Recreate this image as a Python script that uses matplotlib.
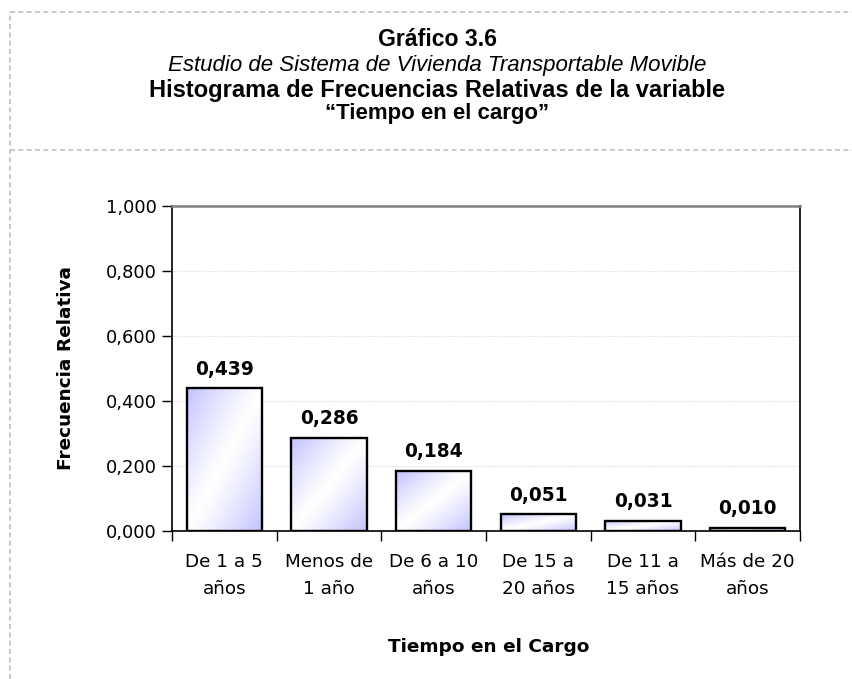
import numpy as np
import matplotlib
matplotlib.use('Agg')
import matplotlib.pyplot as plt
from matplotlib.lines import Line2D

# データ
categories = ['De 1 a 5\naños', 'Menos de\n1 año', 'De 6 a 10\naños',
              'De 15 a\n20 años', 'De 11 a\n15 años', 'Más de 20\naños']
values = [0.439, 0.286, 0.184, 0.051, 0.031, 0.010]
yticks = [0.0, 0.2, 0.4, 0.6, 0.8, 1.0]

title_lines = ['Gráfico 3.6',
               'Estudio de Sistema de Vivienda Transportable Movible',
               'Histograma de Frecuencias Relativas de la variable',
               '“Tiempo en el cargo”']

def fmt(v):
    return f'{v:.3f}'.replace('.', ',')

fig = plt.figure(figsize=(8.52, 6.79), dpi=100)
ax = fig.add_axes([172 / 852, 1 - 531 / 679, 628 / 852, 325 / 679])

x = np.arange(len(categories))
bars = ax.bar(x, values, width=0.72, facecolor='none', edgecolor='black',
              linewidth=1.7, zorder=3)

# グラデーション塗り（左上→中央白→右下）
lav = np.array([0.76, 0.76, 1.0])
white = np.array([1.0, 1.0, 1.0])
n = 64
u, v = np.meshgrid(np.linspace(0, 1, n), np.linspace(0, 1, n))
t = np.abs((u + v) - 1.0)
t = np.clip(t, 0, 1) ** 1.2
grad = white[None, None, :] * (1 - t[..., None]) + lav[None, None, :] * t[..., None]
for b in bars:
    x0, y0 = b.get_x(), b.get_y()
    w, h = b.get_width(), b.get_height()
    im = ax.imshow(grad, extent=(x0, x0 + w, y0, y0 + h), origin='upper',
                   aspect='auto', zorder=2, interpolation='bilinear')
    im.set_clip_path(b)

ax.set_xlim(-0.5, len(categories) - 0.5)
ax.set_ylim(0, 1.0)
ax.set_yticks(yticks)
ax.set_yticklabels([fmt(t) for t in yticks], fontsize=13, family='DejaVu Sans')
ax.set_xticks(np.arange(len(categories) + 1) - 0.5, minor=False)
ax.set_xticklabels([])
ax.set_xticks(x, minor=True)
ax.set_xticklabels(categories, minor=True, fontsize=13.2, family='DejaVu Sans',
                   linespacing=1.6)
ax.tick_params(axis='x', which='minor', length=0, pad=16)
ax.tick_params(axis='x', which='major', length=7, width=1, direction='out')
ax.tick_params(axis='y', length=7, width=1, direction='out', pad=4)

for s in ['left', 'bottom', 'right']:
    ax.spines[s].set_color('black')
    ax.spines[s].set_linewidth(1.2)
ax.spines['top'].set_color('#808080')
ax.spines['top'].set_linewidth(1.8)

ax.yaxis.grid(True, color='#dedede', linestyle=(0, (1, 1)), linewidth=0.8, zorder=0)
ax.set_axisbelow(True)

for xi, val in zip(x, values):
    ax.text(xi, val + 0.03, fmt(val), ha='center', va='bottom', fontsize=13.4,
            fontweight='bold', family='DejaVu Sans', zorder=4)

ax.set_ylabel('Frecuencia Relativa', fontsize=13.3, fontweight='bold',
              family='DejaVu Sans', labelpad=22)
fig.text(489 / 852, 1 - 647 / 679, 'Tiempo en el Cargo', ha='center', va='center',
         fontsize=13.3, fontweight='bold', family='DejaVu Sans')

# タイトル
tx = 437 / 852
ys = [40, 65, 90, 113]
styles = [('bold', 'normal', 16.6), ('normal', 'italic', 16),
          ('bold', 'normal', 17), ('bold', 'normal', 16)]
for line, yy, (w, st, fs) in zip(title_lines, ys, styles):
    fig.text(tx, 1 - yy / 679, line, ha='center', va='center', fontsize=fs,
             fontweight=w, fontstyle=st, family='Liberation Sans')

# 破線の枠
dash = dict(color='#c0c0c0', linewidth=1.2, linestyle=(0, (3, 2)))
fig.add_artist(Line2D([10 / 852, 1.0], [1 - 12 / 679] * 2, **dash))
fig.add_artist(Line2D([10 / 852, 1.0], [1 - 150 / 679] * 2, **dash))
fig.add_artist(Line2D([10 / 852] * 2, [0, 1 - 12 / 679], **dash))

fig.savefig('out.png', dpi=100)
